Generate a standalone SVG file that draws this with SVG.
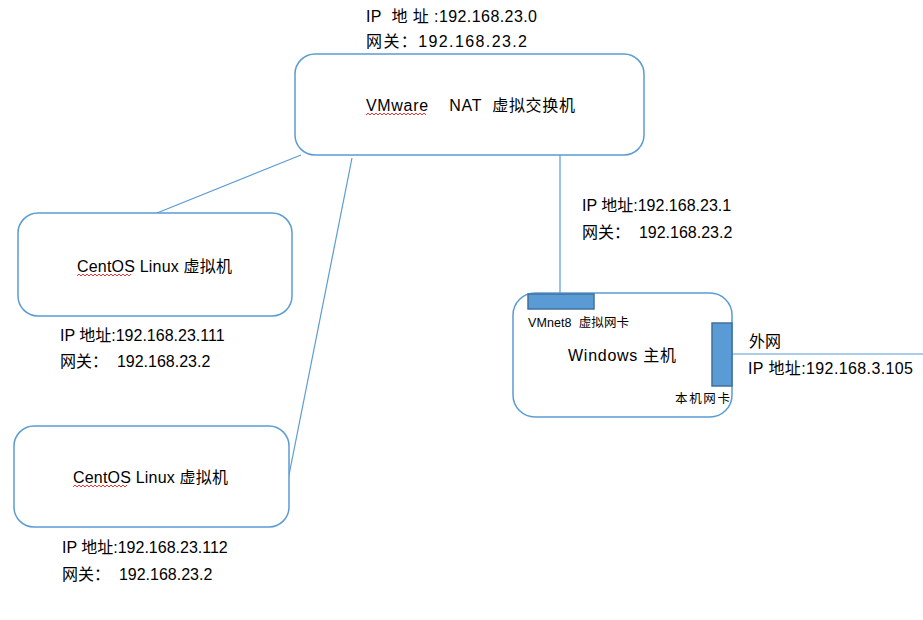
<svg xmlns="http://www.w3.org/2000/svg" width="923" height="620" viewBox="0 0 923 620">
<style>
.box{fill:#fff;stroke:#5b9bd5;stroke-width:1.5}
.port{fill:#5b9bd5;stroke:#41719c;stroke-width:1.5}
.ln{stroke:#5b9bd5;stroke-width:1.2;fill:none}
text{font-family:"Liberation Sans","Noto Sans CJK SC",sans-serif;font-size:16px;fill:#000}
.sm{font-size:12.5px}
.sq{stroke:#e00;stroke-width:0.8;fill:none}
</style>
<rect width="923" height="620" fill="#fff"/>
<g id="connectors">
<line class="ln" x1="301" y1="155" x2="157" y2="213"/>
<line class="ln" x1="352" y1="158" x2="289" y2="475"/>
<line class="ln" x1="560" y1="155" x2="560" y2="294"/>
<line class="ln" x1="732" y1="354" x2="923" y2="354"/>
</g>
<g id="nat-switch">
<rect class="box" x="295" y="54" width="349" height="101" rx="20"/>
<text x="366" y="111" xml:space="preserve" textLength="209" lengthAdjust="spacing">VMware    NAT  虚拟交换机</text>
<path class="sq" d="M366,115 l2,-2 l2,2 l2,-2 l2,2 l2,-2 l2,2 l2,-2 l2,2 l2,-2 l2,2 l2,-2 l2,2 l2,-2 l2,2 l2,-2 l2,2 l2,-2 l2,2 l2,-2 l2,2 l2,-2 l2,2 l2,-2 l2,2 l2,-2 l2,2 l2,-2 l2,2 l2,-2 l2,2"/>
<text x="366" y="22" xml:space="preserve" textLength="171" lengthAdjust="spacing">IP  地 址 :192.168.23.0</text>
<text x="366" y="47" textLength="161" lengthAdjust="spacing">网关：192.168.23.2</text>
</g>
<g id="centos1">
<rect class="box" x="18" y="213" width="274" height="103" rx="20"/>
<text x="77" y="272" textLength="155" lengthAdjust="spacing">CentOS Linux 虚拟机</text>
<path class="sq" d="M77,276 l2,-2 l2,2 l2,-2 l2,2 l2,-2 l2,2 l2,-2 l2,2 l2,-2 l2,2 l2,-2 l2,2 l2,-2 l2,2 l2,-2 l2,2 l2,-2 l2,2 l2,-2 l2,2 l2,-2 l2,2 l2,-2 l2,2 l2,-2 l2,2 l2,-2"/>
<text x="60" y="341">IP 地址:192.168.23.111</text>
<text x="60" y="367" xml:space="preserve">网关：  192.168.23.2</text>
</g>
<g id="centos2">
<rect class="box" x="14" y="426" width="275" height="101" rx="20"/>
<text x="73" y="483" textLength="155" lengthAdjust="spacing">CentOS Linux 虚拟机</text>
<path class="sq" d="M73,487 l2,-2 l2,2 l2,-2 l2,2 l2,-2 l2,2 l2,-2 l2,2 l2,-2 l2,2 l2,-2 l2,2 l2,-2 l2,2 l2,-2 l2,2 l2,-2 l2,2 l2,-2 l2,2 l2,-2 l2,2 l2,-2 l2,2 l2,-2 l2,2 l2,-2"/>
<text x="62" y="553">IP 地址:192.168.23.112</text>
<text x="62" y="580" xml:space="preserve">网关：  192.168.23.2</text>
</g>
<g id="vmnet-label">
<text x="582" y="211">IP 地址:192.168.23.1</text>
<text x="582" y="238" xml:space="preserve">网关：  192.168.23.2</text>
</g>
<g id="windows-host">
<rect class="box" x="513" y="293" width="219" height="124" rx="22"/>
<rect class="port" x="528" y="294" width="66" height="15"/>
<rect class="port" x="712" y="323" width="20" height="63"/>
<text class="sm" x="528" y="327" xml:space="preserve" textLength="101" lengthAdjust="spacing">VMnet8  虚拟网卡</text>
<text x="568" y="361" textLength="108" lengthAdjust="spacing">Windows 主机</text>
<text class="sm" x="675" y="403" textLength="55" lengthAdjust="spacing">本机网卡</text>
</g>
<g id="external">
<text x="749" y="347">外网</text>
<text x="748" y="374" textLength="165" lengthAdjust="spacing">IP 地址:192.168.3.105</text>
</g>
</svg>
